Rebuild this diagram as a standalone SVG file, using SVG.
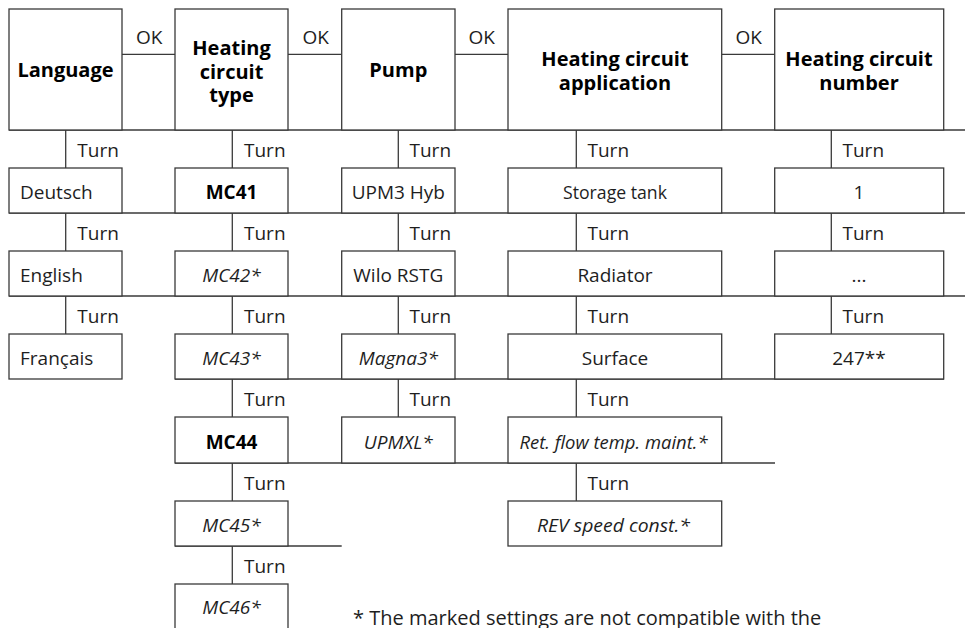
<svg xmlns="http://www.w3.org/2000/svg" width="965" height="628" viewBox="0 0 965 628">
<style>
.box{fill:#fff;stroke:#3a3a3a;stroke-width:1.3}
.ln{stroke:#3a3a3a;stroke-width:1.3;fill:none}
text{font-family:"Open Sans","Noto Sans","DejaVu Sans",sans-serif;fill:#1e1e1e}
.h{font-size:20px;font-weight:bold;text-anchor:middle;fill:#000}
.t{font-size:19px}
.c{text-anchor:middle}
.b{font-weight:bold;fill:#000}
.i{font-style:italic}
</style>
<rect width="965" height="628" fill="#fff"/>
<g id="connectors">
<line class="ln" x1="9" y1="130" x2="965" y2="130"/>
<line class="ln" x1="9" y1="213" x2="965" y2="213"/>
<line class="ln" x1="9" y1="296" x2="965" y2="296"/>
<line class="ln" x1="175" y1="379" x2="944" y2="379"/>
<line class="ln" x1="175" y1="463" x2="775" y2="463"/>
<line class="ln" x1="175" y1="546" x2="341.7" y2="546"/>
<line class="ln" x1="122" y1="54.3" x2="175" y2="54.3"/>
<line class="ln" x1="288" y1="54.3" x2="341.7" y2="54.3"/>
<line class="ln" x1="455" y1="54.3" x2="508" y2="54.3"/>
<line class="ln" x1="721.7" y1="54.3" x2="774.7" y2="54.3"/>
<text class="t" x="136" y="43.5">OK</text>
<text class="t" x="302.5" y="43.5">OK</text>
<text class="t" x="468.5" y="43.5">OK</text>
<text class="t" x="735.5" y="43.5">OK</text>
<!-- Language -->
<line class="ln" x1="65.7" y1="130" x2="65.7" y2="168"/>
<line class="ln" x1="65.7" y1="213" x2="65.7" y2="251"/>
<line class="ln" x1="65.7" y1="296" x2="65.7" y2="334"/>
<text class="t" x="77.3" y="157">Turn</text>
<text class="t" x="77.3" y="240">Turn</text>
<text class="t" x="77.3" y="323">Turn</text>
<!-- HCT -->
<line class="ln" x1="232.3" y1="130" x2="232.3" y2="168"/>
<line class="ln" x1="232.3" y1="213" x2="232.3" y2="251"/>
<line class="ln" x1="232.3" y1="296" x2="232.3" y2="334"/>
<line class="ln" x1="232.3" y1="379" x2="232.3" y2="417"/>
<line class="ln" x1="232.3" y1="463" x2="232.3" y2="501"/>
<line class="ln" x1="232.3" y1="546" x2="232.3" y2="584"/>
<text class="t" x="244" y="157">Turn</text>
<text class="t" x="244" y="240">Turn</text>
<text class="t" x="244" y="323">Turn</text>
<text class="t" x="244" y="406">Turn</text>
<text class="t" x="244" y="490">Turn</text>
<text class="t" x="244" y="573">Turn</text>
<!-- Pump -->
<line class="ln" x1="398.3" y1="130" x2="398.3" y2="168"/>
<line class="ln" x1="398.3" y1="213" x2="398.3" y2="251"/>
<line class="ln" x1="398.3" y1="296" x2="398.3" y2="334"/>
<line class="ln" x1="398.3" y1="379" x2="398.3" y2="417"/>
<text class="t" x="409.5" y="157">Turn</text>
<text class="t" x="409.5" y="240">Turn</text>
<text class="t" x="409.5" y="323">Turn</text>
<text class="t" x="409.5" y="406">Turn</text>
<!-- HCA -->
<line class="ln" x1="576.3" y1="130" x2="576.3" y2="168"/>
<line class="ln" x1="576.3" y1="213" x2="576.3" y2="251"/>
<line class="ln" x1="576.3" y1="296" x2="576.3" y2="334"/>
<line class="ln" x1="576.3" y1="379" x2="576.3" y2="417"/>
<line class="ln" x1="576.3" y1="463" x2="576.3" y2="501"/>
<text class="t" x="587.5" y="157">Turn</text>
<text class="t" x="587.5" y="240">Turn</text>
<text class="t" x="587.5" y="323">Turn</text>
<text class="t" x="587.5" y="406">Turn</text>
<text class="t" x="587.5" y="490">Turn</text>
<!-- HCN -->
<line class="ln" x1="831.3" y1="130" x2="831.3" y2="168"/>
<line class="ln" x1="831.3" y1="213" x2="831.3" y2="251"/>
<line class="ln" x1="831.3" y1="296" x2="831.3" y2="334"/>
<text class="t" x="842.5" y="157">Turn</text>
<text class="t" x="842.5" y="240">Turn</text>
<text class="t" x="842.5" y="323">Turn</text>
</g>
<g id="language">
<rect class="box" x="9" y="9" width="113" height="121"/>
<text class="h" x="65.5" y="77">Language</text>
</g>
<g id="heating-circuit-type">
<rect class="box" x="175" y="9" width="113" height="121"/>
<text class="h" x="231.5" y="55">Heating</text>
<text class="h" x="231.5" y="78.5">circuit</text>
<text class="h" x="231.5" y="101.5">type</text>
</g>
<g id="pump">
<rect class="box" x="341.7" y="9" width="113.3" height="121"/>
<text class="h" x="398.3" y="77">Pump</text>
</g>
<g id="heating-circuit-application">
<rect class="box" x="508" y="9" width="213.7" height="121"/>
<text class="h" x="615" y="66">Heating circuit</text>
<text class="h" x="615" y="90">application</text>
</g>
<g id="heating-circuit-number">
<rect class="box" x="774.7" y="9" width="169" height="121"/>
<text class="h" x="859" y="66">Heating circuit</text>
<text class="h" x="859" y="90">number</text>
</g>
<g id="deutsch"><rect class="box" x="9" y="168" width="113" height="45"/><text class="t" x="20" y="199">Deutsch</text></g>
<g id="english"><rect class="box" x="9" y="251" width="113" height="45"/><text class="t" x="20" y="282">English</text></g>
<g id="francais"><rect class="box" x="9" y="334" width="113" height="45"/><text class="t" x="20" y="365">Français</text></g>
<g id="mc41"><rect class="box" x="175" y="168" width="113" height="45"/><text class="t c b" x="231.5" y="199">MC41</text></g>
<g id="mc42"><rect class="box" x="175" y="251" width="113" height="45"/><text class="t c i" x="231.5" y="282">MC42*</text></g>
<g id="mc43"><rect class="box" x="175" y="334" width="113" height="45"/><text class="t c i" x="231.5" y="365">MC43*</text></g>
<g id="mc44"><rect class="box" x="175" y="417" width="113" height="46"/><text class="t c b" x="231.5" y="449">MC44</text></g>
<g id="mc45"><rect class="box" x="175" y="501" width="113" height="45"/><text class="t c i" x="231.5" y="532">MC45*</text></g>
<g id="mc46"><rect class="box" x="175" y="584" width="113" height="50"/><text class="t c i" x="231.5" y="614">MC46*</text></g>
<g id="upm3-hyb"><rect class="box" x="341.7" y="168" width="113.3" height="45"/><text class="t c" x="398.3" y="199">UPM3 Hyb</text></g>
<g id="wilo-rstg"><rect class="box" x="341.7" y="251" width="113.3" height="45"/><text class="t c" x="398.3" y="282">Wilo RSTG</text></g>
<g id="magna3"><rect class="box" x="341.7" y="334" width="113.3" height="45"/><text class="t c i" x="398.3" y="365">Magna3*</text></g>
<g id="upmxl"><rect class="box" x="341.7" y="417" width="113.3" height="46"/><text class="t c i" x="398.3" y="449">UPMXL*</text></g>
<g id="storage-tank"><rect class="box" x="508" y="168" width="213.7" height="45"/><text class="t c" x="615" y="199" textLength="104" lengthAdjust="spacingAndGlyphs">Storage tank</text></g>
<g id="radiator"><rect class="box" x="508" y="251" width="213.7" height="45"/><text class="t c" x="615" y="282">Radiator</text></g>
<g id="surface"><rect class="box" x="508" y="334" width="213.7" height="45"/><text class="t c" x="615" y="365">Surface</text></g>
<g id="ret-flow"><rect class="box" x="508" y="417" width="213.7" height="46"/><text class="t c i" x="613.5" y="449" textLength="188" lengthAdjust="spacingAndGlyphs">Ret. flow temp. maint.*</text></g>
<g id="rev-speed"><rect class="box" x="508" y="501" width="213.7" height="45"/><text class="t c i" x="613.5" y="532" textLength="153" lengthAdjust="spacingAndGlyphs">REV speed const.*</text></g>
<g id="n1"><rect class="box" x="774.7" y="168" width="169" height="45"/><text class="t c" x="859" y="199">1</text></g>
<g id="n-dots"><rect class="box" x="774.7" y="251" width="169" height="45"/><text class="t c" x="859" y="282">...</text></g>
<g id="n247"><rect class="box" x="774.7" y="334" width="169" height="45"/><text class="t c" x="859" y="365">247**</text></g>
<text x="353" y="625" style="font-size:20px">* The marked settings are not compatible with the</text>
</svg>
